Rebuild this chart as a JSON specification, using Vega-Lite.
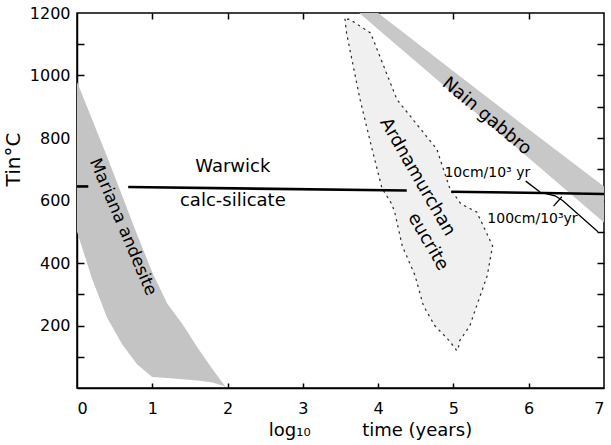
{
  "$schema": "https://vega.github.io/schema/vega-lite/v6.json",
  "width": 527,
  "height": 375,
  "autosize": {"type": "none"},
  "padding": {"left": 77, "top": 13, "right": 7, "bottom": 57},
  "background": "white",
  "config": {
    "view": {"stroke": "black", "strokeWidth": 1.5},
    "font": "DejaVu Sans",
    "axis": {"grid": false, "domainColor": "black", "domainWidth": 1.5, "labelColor": "black", "titleColor": "black", "labelFont": "DejaVu Sans", "titleFont": "DejaVu Sans", "titleFontWeight": "normal", "zindex": 1}
  },
  "datasets": {
    "mariana": [
      {"x": 0, "hi": 980, "lo": 500},
      {"x": 0.2, "hi": 860, "lo": 350},
      {"x": 0.4, "hi": 740, "lo": 225},
      {"x": 0.6, "hi": 615, "lo": 140},
      {"x": 0.8, "hi": 490, "lo": 75},
      {"x": 1.0, "hi": 370, "lo": 35},
      {"x": 1.2, "hi": 270, "lo": 32},
      {"x": 1.4, "hi": 205, "lo": 28},
      {"x": 1.6, "hi": 130, "lo": 24},
      {"x": 1.8, "hi": 60, "lo": 18},
      {"x": 1.97, "hi": 5, "lo": 5}
    ],
    "nain": [
      {"x": 3.75, "hi": 1200, "lo": 1200},
      {"x": 4.0, "hi": 1200, "lo": 1148},
      {"x": 5.0, "hi": 1014, "lo": 942},
      {"x": 6.0, "hi": 828, "lo": 736},
      {"x": 7.0, "hi": 645, "lo": 530}
    ],
    "ardna": [
      {"v": 1180, "xl": 3.56, "xr": 3.62},
      {"v": 1136, "xl": 3.58, "xr": 3.9},
      {"v": 923, "xl": 3.76, "xr": 4.25},
      {"v": 764, "xl": 3.92, "xr": 4.78},
      {"v": 640, "xl": 4.05, "xr": 4.95},
      {"v": 589, "xl": 4.18, "xr": 5.1},
      {"v": 563, "xl": 4.22, "xr": 5.31},
      {"v": 455, "xl": 4.32, "xr": 5.52},
      {"v": 360, "xl": 4.49, "xr": 5.45},
      {"v": 264, "xl": 4.6, "xr": 5.31},
      {"v": 200, "xl": 4.75, "xr": 5.22},
      {"v": 150, "xl": 4.95, "xr": 5.08},
      {"v": 121, "xl": 5.04, "xr": 5.06}
    ],
    "thick": [
      {"seg": "a", "x": 0, "v": 645},
      {"seg": "a", "x": 0.15, "v": 645},
      {"seg": "b", "x": 0.68, "v": 643},
      {"seg": "b", "x": 4.38, "v": 632},
      {"seg": "c", "x": 4.97, "v": 628},
      {"seg": "c", "x": 6.2, "v": 624},
      {"seg": "c", "x": 7.0, "v": 621}
    ],
    "thin": [
      {"seg": "100cm", "x": 6.2, "v": 624},
      {"seg": "100cm", "x": 6.35, "v": 615},
      {"seg": "100cm", "x": 6.45, "v": 600},
      {"seg": "100cm", "x": 6.92, "v": 500},
      {"seg": "lead10", "x": 5.96, "v": 662},
      {"seg": "lead10", "x": 6.15, "v": 627},
      {"seg": "lead100", "x": 6.33, "v": 582},
      {"seg": "lead100", "x": 6.44, "v": 612}
    ],
    "flat": [
      {"text": "Warwick", "x": 2.07, "v": 707},
      {"text": "calc-silicate", "x": 2.07, "v": 598}
    ],
    "rates": [
      {"text": "10cm/10³ yr", "x": 5.45, "v": 688},
      {"text": "100cm/10³yr", "x": 6.05, "v": 540}
    ]
  },
  "layer": [
    {
      "data": {"name": "mariana"},
      "mark": {"type": "area", "fill": "#c4c4c4"},
      "encoding": {
        "x": {"field": "x", "type": "quantitative", "scale": {"domain": [0, 7], "nice": false},
          "axis": {"orient": "bottom", "values": [0,1,2,3,4,5,6,7], "ticks": false, "labelPadding": 12, "labelFontSize": 16, "title": "log₁₀\u00a0\u00a0\u00a0\u00a0\u00a0\u00a0\u00a0\u00a0\u00a0time (years)", "titleFontSize": 18, "titlePadding": 5, "titleX": 293}},
        "y": {"field": "hi", "type": "quantitative", "scale": {"domain": [0, 1200], "nice": false},
          "axis": {"orient": "left", "values": [200,400,600,800,1000,1200], "ticks": false, "labelPadding": 7, "labelFontSize": 16, "format": "d", "title": "Tin°C", "titleFontSize": 20, "titlePadding": 6, "titleY": 146}},
        "y2": {"field": "lo"}
      }
    },
    {
      "data": {"name": "nain"},
      "mark": {"type": "area", "fill": "#c8c8c8"},
      "encoding": {
        "x": {"field": "x", "type": "quantitative",
          "axis": {"orient": "top", "values": [1,2,3,4,5,6], "offset": -6, "ticks": true, "tickSize": 6, "tickColor": "black", "tickWidth": 1.5, "labels": false, "domain": false, "title": null}},
        "y": {"field": "hi", "type": "quantitative",
          "axis": {"orient": "right", "values": [100,200,300,400,500,600,700,800,900,1000,1100], "offset": -7, "ticks": true, "tickSize": 7, "tickColor": "black", "tickWidth": 1.5, "labels": false, "domain": false, "title": null}},
        "y2": {"field": "lo"}
      }
    },
    {
      "data": {"name": "ardna"},
      "mark": {"type": "area", "orient": "horizontal", "fill": "#f0f0f0", "stroke": "#333", "strokeWidth": 1.3, "strokeDash": [1.3, 5], "strokeCap": "round"},
      "encoding": {
        "y": {"field": "v", "type": "quantitative",
          "axis": {"orient": "left", "values": [100,200,300,400,500,600,700,800,900,1000,1100], "offset": -7, "ticks": true, "tickSize": 7, "tickColor": "black", "tickWidth": 1.5, "labels": false, "domain": false, "title": null}},
        "x": {"field": "xl", "type": "quantitative",
          "axis": {"orient": "bottom", "values": [1,2,3,4,5,6], "offset": -5, "ticks": true, "tickSize": 5, "tickColor": "black", "tickWidth": 1.5, "labels": false, "domain": false, "title": null}},
        "x2": {"field": "xr"}
      }
    },
    {
      "data": {"name": "thick"},
      "mark": {"type": "line", "color": "black", "strokeWidth": 2.6},
      "encoding": {
        "x": {"field": "x", "type": "quantitative", "axis": null},
        "y": {"field": "v", "type": "quantitative", "axis": null},
        "detail": {"field": "seg"}
      }
    },
    {
      "data": {"name": "thin"},
      "mark": {"type": "line", "color": "black", "strokeWidth": 1.3},
      "encoding": {
        "x": {"field": "x", "type": "quantitative", "axis": null},
        "y": {"field": "v", "type": "quantitative", "axis": null},
        "detail": {"field": "seg"}
      }
    },
    {
      "data": {"name": "flat"},
      "mark": {"type": "text", "fontSize": 18, "color": "black", "align": "center", "baseline": "middle"},
      "encoding": {
        "x": {"field": "x", "type": "quantitative", "axis": null},
        "y": {"field": "v", "type": "quantitative", "axis": null},
        "text": {"field": "text"}
      }
    },
    {
      "data": {"name": "rates"},
      "mark": {"type": "text", "fontSize": 14, "color": "black", "align": "center", "baseline": "middle"},
      "encoding": {
        "x": {"field": "x", "type": "quantitative", "axis": null},
        "y": {"field": "v", "type": "quantitative", "axis": null},
        "text": {"field": "text"}
      }
    },
    {
      "data": {"values": [{"text": "Mariana andesite", "x": 0.61, "v": 515}]},
      "mark": {"type": "text", "fontSize": 17, "angle": 67, "color": "black", "align": "center", "baseline": "middle"},
      "encoding": {
        "x": {"field": "x", "type": "quantitative", "axis": null},
        "y": {"field": "v", "type": "quantitative", "axis": null},
        "text": {"field": "text"}
      }
    },
    {
      "data": {"values": [{"text": "Nain gabbro", "x": 5.44, "v": 869}]},
      "mark": {"type": "text", "fontSize": 18, "angle": 40, "color": "black", "align": "center", "baseline": "middle"},
      "encoding": {
        "x": {"field": "x", "type": "quantitative", "axis": null},
        "y": {"field": "v", "type": "quantitative", "axis": null},
        "text": {"field": "text"}
      }
    },
    {
      "data": {"values": [{"text": "Ardnamurchan", "x": 4.52, "v": 675}, {"text": "eucrite", "x": 4.66, "v": 468}]},
      "mark": {"type": "text", "fontSize": 18, "angle": 60, "color": "black", "align": "center", "baseline": "middle"},
      "encoding": {
        "x": {"field": "x", "type": "quantitative", "axis": null},
        "y": {"field": "v", "type": "quantitative", "axis": null},
        "text": {"field": "text"}
      }
    }
  ],
  "resolve": {"axis": {"x": "independent", "y": "independent"}}
}
